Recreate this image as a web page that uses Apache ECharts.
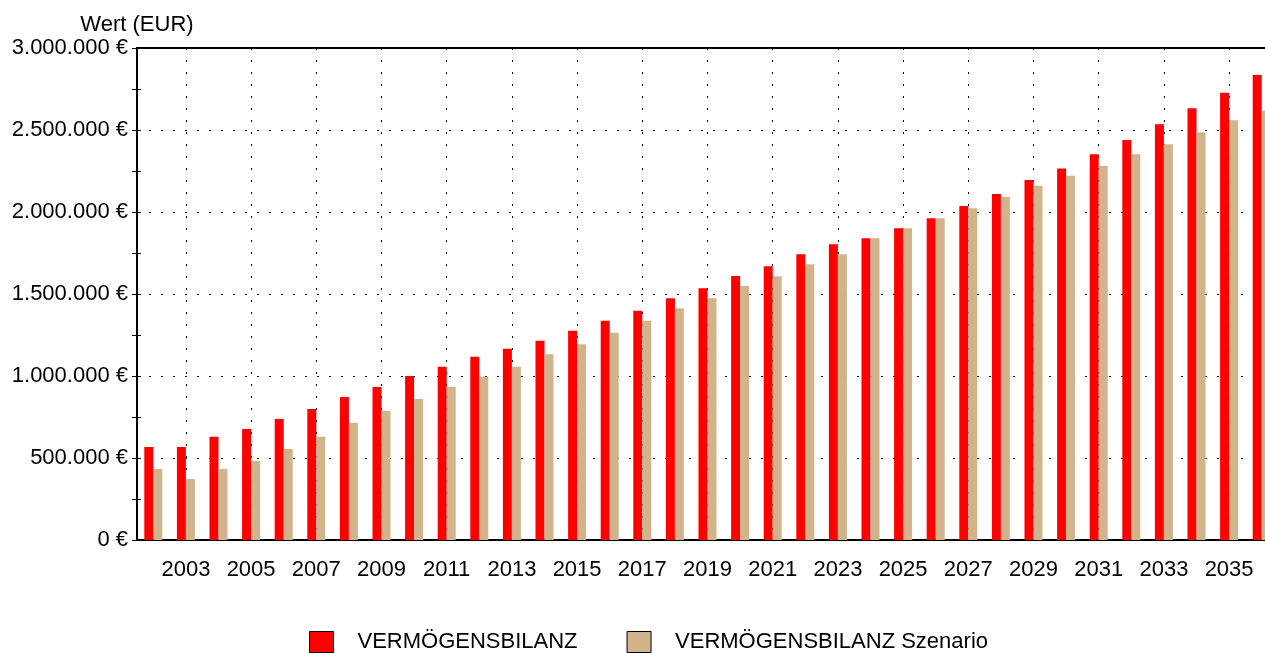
<!DOCTYPE html>
<html>
<head>
<meta charset="utf-8">
<script src="https://cdn.jsdelivr.net/npm/echarts@6/dist/echarts.min.js"></script>
<style>
  html, body { margin: 0; padding: 0; background: #fff; }
  #main { width: 1265px; height: 653px; }
</style>
</head>
<body>
<div id="main"></div>
<script>
const years = ['2002', '2003', '2004', '2005', '2006', '2007', '2008', '2009', '2010', '2011',
  '2012', '2013', '2014', '2015', '2016', '2017', '2018', '2019', '2020', '2021',
  '2022', '2023', '2024', '2025', '2026', '2027', '2028', '2029', '2030', '2031',
  '2032', '2033', '2034', '2035', '2036'];

const vermoegen = [567000, 567000, 630000, 677000, 738000, 799000, 872000, 933000, 1000000, 1057000,
  1118000, 1166000, 1215000, 1276000, 1337000, 1398000, 1474000, 1535000, 1610000, 1669000,
  1742000, 1803000, 1840000, 1901000, 1962000, 2037000, 2110000, 2195000, 2266000, 2352000,
  2439000, 2535000, 2632000, 2727000, 2835000];

const szenario = [433000, 372000, 433000, 482000, 555000, 630000, 715000, 788000, 860000, 935000,
  996000, 1057000, 1132000, 1193000, 1264000, 1337000, 1413000, 1474000, 1549000, 1608000,
  1681000, 1742000, 1840000, 1901000, 1962000, 2023000, 2091000, 2160000, 2221000, 2280000,
  2352000, 2413000, 2486000, 2559000, 2618000];

const seriesNames = ['VERMÖGENSBILANZ', 'VERMÖGENSBILANZ Szenario'];

const font = "'Liberation Sans', Arial, sans-serif";

// 3000000 -> "3.000.000 €"
const euro = (v) => String(v).replace(/\B(?=(\d{3})+(?!\d))/g, '.') + ' €';
const oddYear = (i) => i % 2 === 1;

const chart = echarts.init(document.getElementById('main'));

const option = {
  animation: false,
  textStyle: { fontFamily: font, color: '#000' },
  grid: {
    left: 137, top: 48, width: 1141, height: 492,
    outerBoundsMode: 'none',
    containLabel: false,
    show: true, borderColor: '#000', borderWidth: 2
  },
  legend: {
    top: 626,
    left: 304,
    itemWidth: 24,
    itemHeight: 21,
    itemGap: 49,
    icon: 'rect',
    itemStyle: { borderColor: '#000', borderWidth: 1 },
    textStyle: { fontFamily: font, fontSize: 22, color: '#000', padding: [0, 0, 0, 19] },
    data: seriesNames
  },
  xAxis: {
    type: 'category',
    data: years,
    axisLine: { lineStyle: { color: '#000', width: 2 } },
    axisTick: { interval: oddYear, alignWithLabel: true, length: 5, lineStyle: { color: '#000' } },
    axisLabel: { interval: oddYear, fontSize: 22, color: '#000', margin: 19 },
    splitLine: {
      show: true, interval: oddYear, alignWithLabel: true,
      lineStyle: { color: '#000', type: [2, 10], width: 1 }
    }
  },
  yAxis: [{
    type: 'value',
    min: 0, max: 3000000, interval: 500000,
    name: 'Wert (EUR)',
    nameGap: 12,
    nameTextStyle: { fontSize: 22, color: '#000', align: 'center' },
    axisLine: { show: true, lineStyle: { color: '#000', width: 2 } },
    axisTick: { show: true, length: 5, lineStyle: { color: '#000' } },
    minorTick: { show: true, splitNumber: 2, length: 5, lineStyle: { color: '#000' } },
    axisLabel: { formatter: euro, fontSize: 22, color: '#000', margin: 9 },
    splitLine: { lineStyle: { color: '#000', type: [2, 10], width: 1 } }
  }, {
    // second copy only to let the y ticks cross the axis line
    type: 'value',
    position: 'left',
    min: 0, max: 3000000, interval: 500000,
    axisLine: { show: false },
    axisTick: { show: true, inside: true, length: 4, lineStyle: { color: '#000' } },
    minorTick: { show: true, splitNumber: 2, length: 4, lineStyle: { color: '#000' } },
    axisLabel: { show: false },
    splitLine: { show: false }
  }],
  series: [{
    name: seriesNames[0],
    type: 'bar',
    data: vermoegen,
    barWidth: 9,
    barGap: '0%',
    itemStyle: { color: '#ff0000' }
  }, {
    name: seriesNames[1],
    type: 'bar',
    data: szenario,
    barWidth: 9,
    itemStyle: { color: '#d2b48c' }
  }]
};

chart.setOption(option);
</script>
</body>
</html>
